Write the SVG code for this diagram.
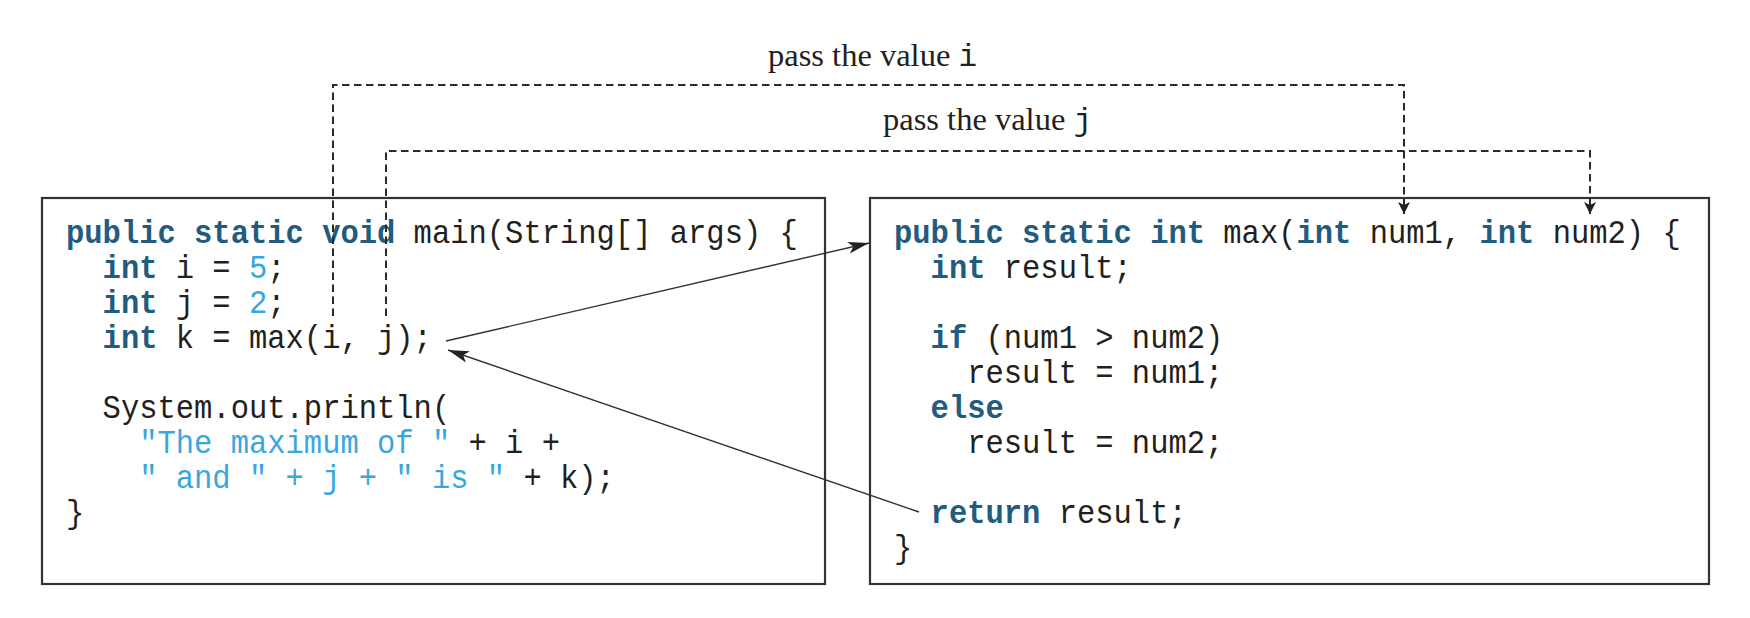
<svg xmlns="http://www.w3.org/2000/svg" width="1750" height="618" viewBox="0 0 1750 618">
  <style>
    .box { fill: none; stroke: #333333; stroke-width: 2.2; }
    .code { font-family: "Liberation Mono", "DejaVu Sans Mono", monospace; font-size: 33px; fill: #231f20; }
    .kw { font-weight: bold; fill: #1f5c80; }
    .lit { fill: #3aa6e0; }
    .lbl { font-family: "Liberation Serif", "Times New Roman", serif; font-size: 32.5px; fill: #231f20; }
    .lblmono { font-family: "Liberation Mono", "DejaVu Sans Mono", monospace; font-size: 31px; }
    .dash { fill: none; stroke: #2a2a2a; stroke-width: 2; stroke-dasharray: 7.5 4.5; }
    .solid { fill: none; stroke: #333333; stroke-width: 1.4; }
  </style>
  <defs>
    <marker id="dashHead" markerUnits="userSpaceOnUse" markerWidth="14" markerHeight="14" refX="12" refY="6" orient="auto">
      <path d="M0,0 L12,6 L0,12 L3,6 z" fill="#222222"/>
    </marker>
    <marker id="solidHead" markerUnits="userSpaceOnUse" markerWidth="22" markerHeight="14" refX="21" refY="6" orient="auto">
      <path d="M0,0 L21,6 L0,12 L5,6 z" fill="#222222"/>
    </marker>
  </defs>
  <rect width="1750" height="618" fill="#ffffff"/>

  <g id="main-box">
    <rect class="box" x="42" y="198" width="783" height="386"/>
    <g transform="translate(66,0) scale(0.924,1)">
      <text class="code" xml:space="preserve">
        <tspan x="0" y="243"><tspan class="kw">public static void</tspan> main(String[] args) {</tspan>
        <tspan x="0" y="278">  <tspan class="kw">int</tspan> i = <tspan class="lit">5</tspan>;</tspan>
        <tspan x="0" y="313">  <tspan class="kw">int</tspan> j = <tspan class="lit">2</tspan>;</tspan>
        <tspan x="0" y="348">  <tspan class="kw">int</tspan> k = max(i, j);</tspan>
        <tspan x="0" y="418">  System.out.println(</tspan>
        <tspan x="0" y="453">    <tspan class="lit">"The maximum of "</tspan> + i +</tspan>
        <tspan x="0" y="488">    <tspan class="lit">" and " + j + " is "</tspan> + k);</tspan>
        <tspan x="0" y="523">}</tspan>
      </text>
    </g>
  </g>

  <g id="max-box">
    <rect class="box" x="870" y="198" width="839" height="386"/>
    <g transform="translate(894,0) scale(0.924,1)">
      <text class="code" xml:space="preserve">
        <tspan x="0" y="243"><tspan class="kw">public static int</tspan> max(<tspan class="kw">int</tspan> num1, <tspan class="kw">int</tspan> num2) {</tspan>
        <tspan x="0" y="278">  <tspan class="kw">int</tspan> result;</tspan>
        <tspan x="0" y="348">  <tspan class="kw">if</tspan> (num1 &gt; num2)</tspan>
        <tspan x="0" y="383">    result = num1;</tspan>
        <tspan x="0" y="418">  <tspan class="kw">else</tspan></tspan>
        <tspan x="0" y="453">    result = num2;</tspan>
        <tspan x="0" y="523">  <tspan class="kw">return</tspan> result;</tspan>
        <tspan x="0" y="558">}</tspan>
      </text>
    </g>
  </g>

  <g id="label-i">
    <text class="lbl" x="768" y="66">pass the value <tspan class="lblmono">i</tspan></text>
  </g>
  <g id="label-j">
    <text class="lbl" x="883" y="130">pass the value <tspan class="lblmono">j</tspan></text>
  </g>

  <g id="connectors">
    <path class="dash" d="M333,316 V85 H1404 V214" marker-end="url(#dashHead)"/>
    <path class="dash" d="M386,316 V151 H1590 V214" marker-end="url(#dashHead)"/>
    <line class="solid" x1="446" y1="341" x2="869" y2="243" marker-end="url(#solidHead)"/>
    <line class="solid" x1="919" y1="512" x2="448" y2="350" marker-end="url(#solidHead)"/>
  </g>
</svg>
